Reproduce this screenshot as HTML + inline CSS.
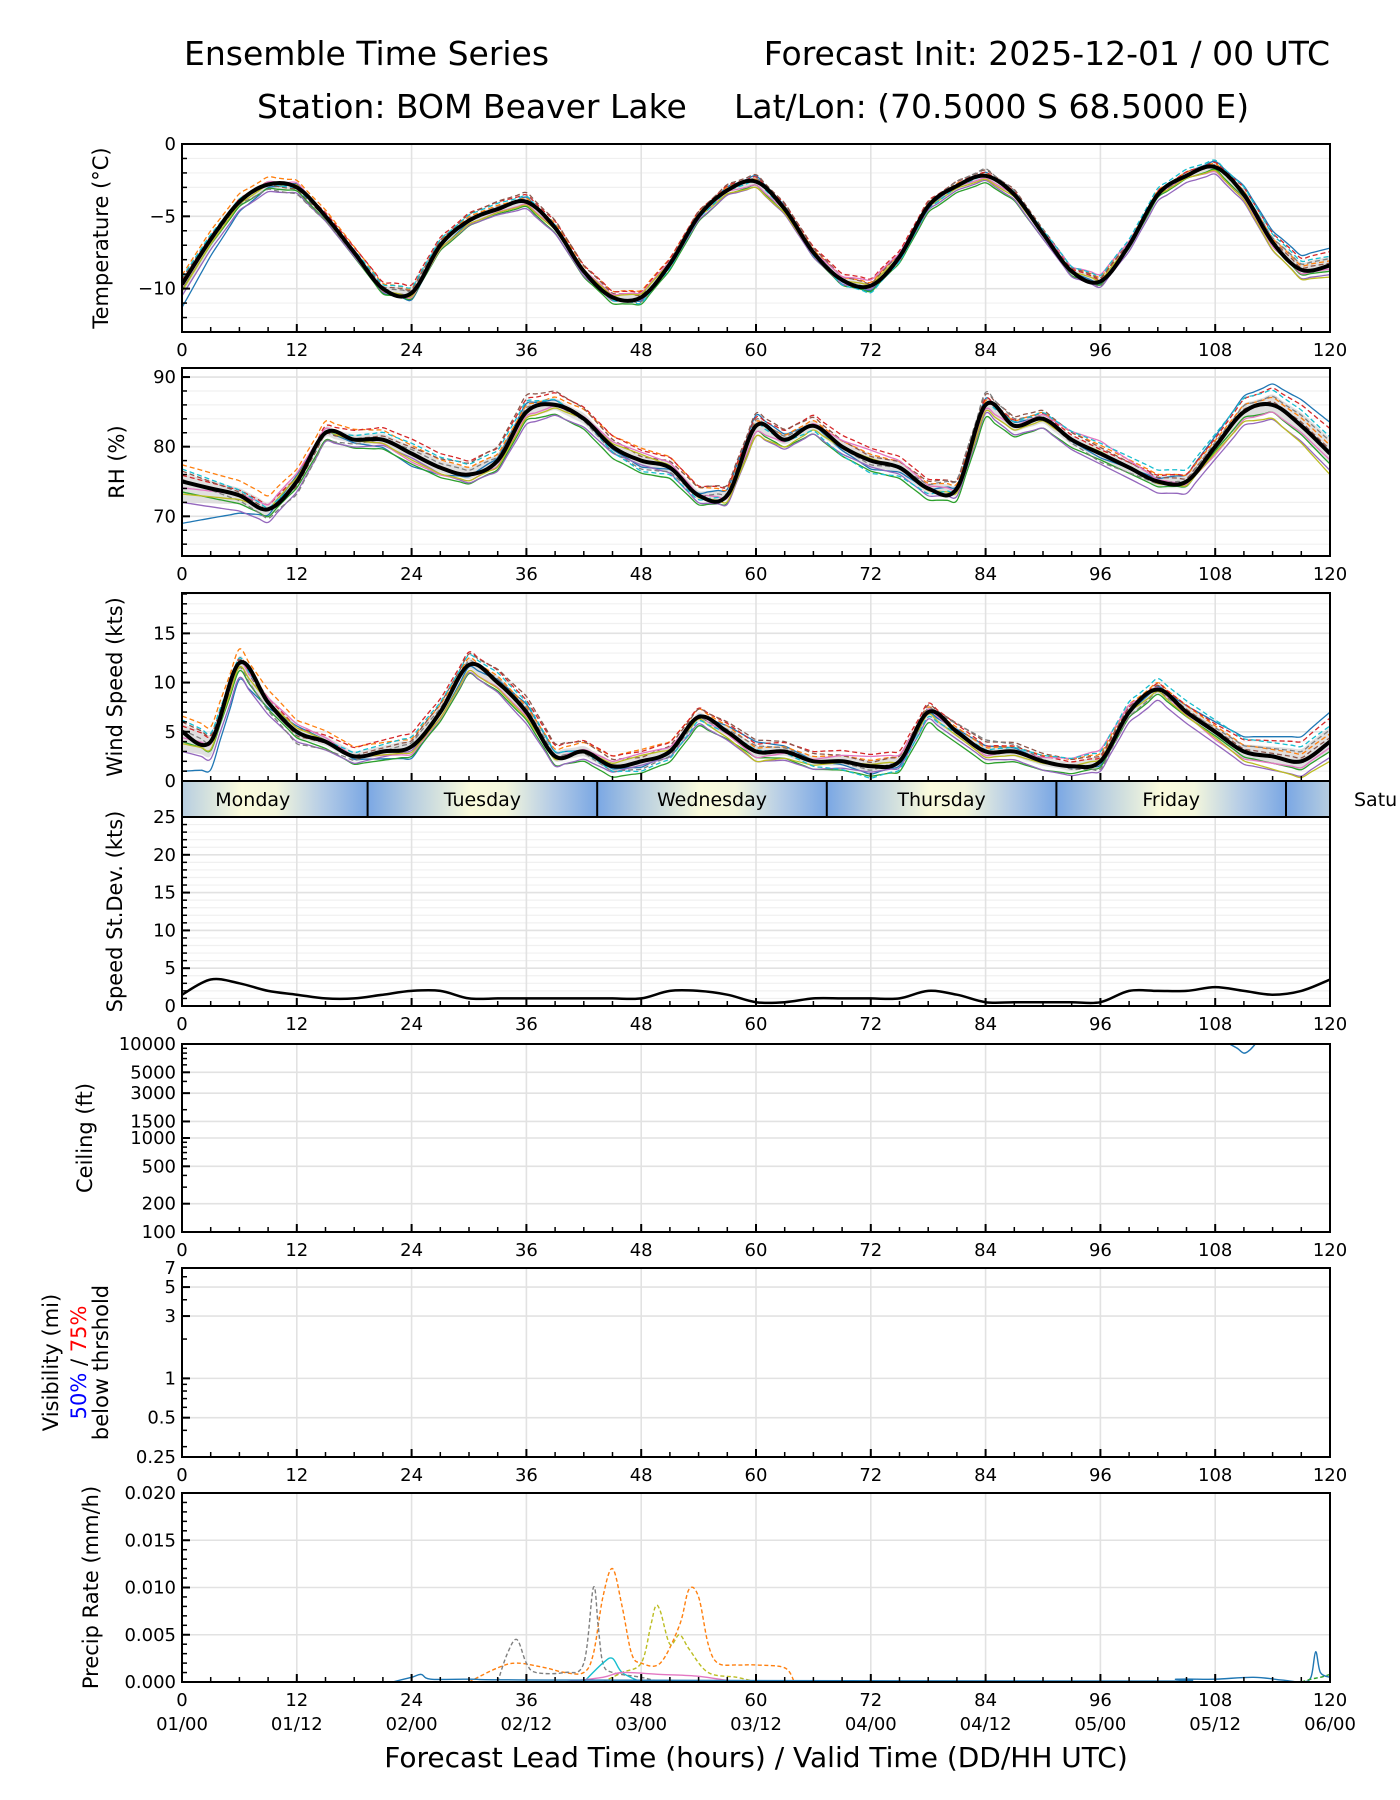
<!DOCTYPE html>
<html><head><meta charset="utf-8">
<style>
html,body{margin:0;padding:0;background:#fff;}
svg{display:block;font-family:"DejaVu Sans","Liberation Sans",sans-serif;}
</style></head>
<body>
<svg id="fig" width="1400" height="1800" viewBox="0 0 1400 1800" xmlns="http://www.w3.org/2000/svg">
<text x="184" y="65" font-size="33">Ensemble Time Series</text>
<text x="1330" y="65" font-size="33" text-anchor="end">Forecast Init: 2025-12-01 / 00 UTC</text>
<text x="257" y="118" font-size="33">Station: BOM Beaver Lake</text>
<text x="734" y="118" font-size="33">Lat/Lon: (70.5000 S 68.5000 E)</text>
<text x="756" y="1767" font-size="28" text-anchor="middle">Forecast Lead Time (hours) / Valid Time (DD/HH UTC)</text>
</svg>
<script>
// ---- data ----
const hours3 = [0,3,6,9,12,15,18,21,24,27,30,33,36,39,42,45,48,51,54,57,60,63,66,69,72,75,78,81,84,87,90,93,96,99,102,105,108,111,114,117,120];
const tempMean = [-9.7,-6.6,-4.0,-2.8,-3.0,-5.0,-7.5,-10.0,-10.3,-7.0,-5.3,-4.5,-4.0,-5.8,-8.8,-10.6,-10.6,-8.3,-5.0,-3.2,-2.6,-4.5,-7.5,-9.4,-9.8,-7.8,-4.3,-2.9,-2.2,-3.5,-6.2,-8.8,-9.5,-7.0,-3.5,-2.2,-1.6,-3.5,-6.8,-8.7,-8.4];
const rhMean = [75,74,73,71,75,82,81,81,79,77,76,78,85,86,84,80,78,77,73,73,83,81,83,80,78,77,74,74,86,83,84,81,79,77,75,75,80,85,86,83,79];
const windMean = [5,4,12,8,5,4,2.5,3,3.5,7,11.8,10,7,2.5,3,1.5,2,3,6.5,5,3,3,2,2,1.5,2,7,5,3,3,2,1.5,2,7,9.3,7,5,3,2.5,2,4];
const sdMean = [1.5,3.5,3,2,1.5,1,1,1.5,2,2,1,1,1,1,1,1,1,2,2,1.5,0.5,0.5,1,1,1,1,2,1.5,0.5,0.5,0.5,0.5,0.5,2,2,2,2.5,2,1.5,2,3.5];
const memberHours = [0,12,24,36,48,60,72,84,96,108,120];
const memberOffsets = [
 [-2.0,0.3,-0.6,0.4,-0.3,0.5,-0.4,0.3,-0.2,0.5,1.5],
 [0.8,0.6,0.4,0.3,0.6,0.2,0.3,0.2,0.4,0.3,0.4],
 [-0.5,-0.3,-0.5,-0.4,-0.6,-0.3,-0.5,-0.6,-0.3,-0.2,-0.5],
 [0.3,0.2,0.7,0.6,0.5,0.4,0.6,0.3,0.2,0.4,1.2],
 [-1.0,-0.5,-0.2,-0.6,-0.2,-0.5,-0.3,-0.4,-0.5,-0.6,-0.8],
 [0.5,-0.2,0.3,0.8,0.2,0.6,0.2,0.5,0.3,0.1,0.2],
 [-0.3,0.4,-0.4,-0.2,0.4,-0.3,0.5,-0.2,0.6,-0.4,-0.3],
 [0.1,-0.6,0.2,0.2,-0.4,0.3,-0.2,0.6,-0.4,0.2,0.6],
 [-0.6,0.2,-0.3,-0.3,0.3,-0.5,0.1,-0.3,0.1,-0.3,-1.0],
 [0.6,-0.1,0.5,0.5,-0.5,0.1,-0.6,0.1,0.5,0.6,0.8]
];
const memberScale = {temp:0.8, rh:3.0, wind:2.0};
const memberColors = ["#1f77b4","#ff7f0e","#2ca02c","#d62728","#9467bd","#8c564b","#e377c2","#7f7f7f","#bcbd22","#17becf"];
const dayNames = ["Monday","Tuesday","Wednesday","Thursday","Friday"];
const dayStart = [-4.6,19.4,43.4,67.4,91.4,115.4];
const ceilHours = [109.5,110.3,111,111.6,112.2];
const ceilVals = [10000,9000,8000,8600,10000];
const precipSeries = [
 {name:"orange",color:"#ff7f0e",dash:true,h:[30,33,35,38,40,42,43,44,45,46,47,48,50,52,53,54,55,56,58,60,63,64],v:[0,0.0015,0.002,0.0015,0.001,0.001,0.003,0.009,0.012,0.008,0.003,0.002,0.002,0.006,0.0098,0.009,0.004,0.002,0.0018,0.0018,0.0015,0]},
 {name:"gray",color:"#7f7f7f",dash:true,h:[33,34,35,36,37,40,42,43,43.5,44,45,48,50],v:[0,0.003,0.0045,0.002,0.001,0.001,0.002,0.010,0.006,0.002,0.001,0.0005,0]},
 {name:"olive",color:"#bcbd22",dash:true,h:[44,46,48,49,49.5,50,51,52,53,55,58,60],v:[0,0.001,0.002,0.006,0.008,0.0075,0.004,0.005,0.0035,0.001,0.0005,0]},
 {name:"cyan",color:"#17becf",dash:false,h:[42,44,45,46,48],v:[0,0.002,0.0025,0.001,0]},
 {name:"pink",color:"#e377c2",dash:false,h:[40,44,46,50,54,58],v:[0,0.0005,0.001,0.0008,0.0006,0]},
 {name:"blue",color:"#1f77b4",dash:false,h:[22,24,25,26,30,40,100,104,108,112,115,117,118,118.5,119,120],v:[0,0.0005,0.0008,0.0003,0.0003,0.0002,0.0001,0.0003,0.0003,0.0005,0.0002,0,0.0005,0.0032,0.001,0.0005]},
 {name:"green",color:"#2ca02c",dash:true,h:[117,118,119,120],v:[0,0.0003,0.0005,0.0008]}
];
const xTicks = [0,12,24,36,48,60,72,84,96,108,120];
const xDates = ["01/00","01/12","02/00","02/12","03/00","03/12","04/00","04/12","05/00","05/12","06/00"];

// ---- helpers ----
const NS="http://www.w3.org/2000/svg";
const svg=document.getElementById('fig');
const X0=182,X1=1330;
const xs=h=>X0+h/120*(X1-X0);
function mk(tag,attrs,parent){const e=document.createElementNS(NS,tag);for(const k in attrs)e.setAttribute(k,attrs[k]);(parent||svg).appendChild(e);return e;}
function interp(hs,vs,h){if(h<=hs[0])return vs[0];for(let i=1;i<hs.length;i++){if(h<=hs[i]){const t=(h-hs[i-1])/(hs[i]-hs[i-1]);return vs[i-1]+t*(vs[i]-vs[i-1]);}}return vs[vs.length-1];}
function smoothPath(pts){let d="M"+pts[0][0].toFixed(1)+","+pts[0][1].toFixed(1);for(let i=0;i<pts.length-1;i++){const p0=pts[Math.max(0,i-1)],p1=pts[i],p2=pts[i+1],p3=pts[Math.min(pts.length-1,i+2)];const c1=[p1[0]+(p2[0]-p0[0])/6,p1[1]+(p2[1]-p0[1])/6],c2=[p2[0]-(p3[0]-p1[0])/6,p2[1]-(p3[1]-p1[1])/6];d+="C"+c1[0].toFixed(1)+","+c1[1].toFixed(1)+" "+c2[0].toFixed(1)+","+c2[1].toFixed(1)+" "+p2[0].toFixed(1)+","+p2[1].toFixed(1);}return d;}

let clipN=0;
function panel(o){
 const g=mk('g',{});
 
 
 const ys=o.ys;
 clipN++;const cid='clip'+clipN;
 const cp=mk('clipPath',{id:cid},g);mk('rect',{x:X0,y:o.top,width:X1-X0,height:o.bot-o.top},cp);
 (o.minorGrid||[]).forEach(v=>mk('line',{x1:X0,x2:X1,y1:ys(v),y2:ys(v),stroke:'#f0f0f0','stroke-width':1.2},g));
 (o.majorGrid||o.yTicks).forEach(v=>mk('line',{x1:X0,x2:X1,y1:ys(v),y2:ys(v),stroke:'#e2e2e2','stroke-width':1.6},g));
 xTicks.forEach(h=>mk('line',{x1:xs(h),x2:xs(h),y1:o.top,y2:o.bot,stroke:'#e2e2e2','stroke-width':1.6},g));
 const plot=mk('g',{'clip-path':'url(#'+cid+')'},g);
 
 
 if(o.draw)o.draw(plot,ys);
 mk('rect',{x:X0,y:o.top,width:X1-X0,height:o.bot-o.top,fill:'none',stroke:'#000','stroke-width':2},g);
 for(let h=0;h<=120;h+=3){const major=h%12===0;mk('line',{x1:xs(h),x2:xs(h),y1:o.bot,y2:o.bot-(major?8:5),stroke:'#000','stroke-width':major?2:1.5},g);}
 o.yTicks.forEach((v,i)=>{mk('line',{x1:X0,x2:X0+8,y1:ys(v),y2:ys(v),stroke:'#000','stroke-width':2},g);
  const t=mk('text',{x:X0-6,y:ys(v)+6,'font-size':18,'text-anchor':'end'},g);t.textContent=o.yLabels?o.yLabels[i]:String(v).replace('-','\u2212');
  
  });
 (o.yMinor||[]).forEach(v=>mk('line',{x1:X0,x2:X0+5,y1:ys(v),y2:ys(v),stroke:'#000','stroke-width':1.5},g));
 if(o.xLabels){xTicks.forEach((h,i)=>{const t=mk('text',{x:xs(h),y:o.bot+24,'font-size':18,'text-anchor':'middle'},g);t.textContent=h;
  
  
  if(o.dates){const d=mk('text',{x:xs(h),y:o.bot+48,'font-size':18,'text-anchor':'middle'},g);d.textContent=xDates[i];
  
  }});}
 const cy=(o.top+o.bot)/2;
 if(o.ylabel){const t=mk('text',{x:0,y:0,'font-size':21,'text-anchor':'middle',transform:`translate(${o.ylx},${cy}) rotate(-90)`},g);t.textContent=o.ylabel;
 
 }
 return g;
}
function range(a,b,s){const r=[];for(let v=a;v<=b+1e-9;v+=s)r.push(+v.toFixed(4));return r;}

function ensembleDraw(key,mean){
 return (plot,ys)=>{
  const fine=[];for(let h=0;h<=120;h+=1)fine.push(h);
  const members=memberOffsets.map(off=>fine.map(h=>interp(hours3,mean,h)+memberScale[key]*interp(memberHours,off,h)));
  const up=fine.map((h,i)=>[xs(h),ys(Math.max(...members.map(m=>m[i]))*0.5+interp(hours3,mean,h)*0.5)]);
  const lo=fine.map((h,i)=>[xs(h),ys(Math.min(...members.map(m=>m[i]))*0.5+interp(hours3,mean,h)*0.5)]);
  const band=mk('path',{d:smoothPath(up)+"L"+smoothPath(lo.slice().reverse()).slice(1),fill:'#d8d8d8',opacity:0.8},plot);
  
  
  members.forEach((m,i)=>{const p=mk('path',{d:smoothPath(fine.map((h,j)=>[xs(h),ys(m[j])])),fill:'none',stroke:memberColors[i],'stroke-width':1.3,'stroke-dasharray':i%2?'5,3':'none'},plot);
   
   });
  const ml=mk('path',{d:smoothPath(hours3.map((h,i)=>[xs(h),ys(mean[i])])),fill:'none',stroke:'#000','stroke-width':4,'stroke-linejoin':'round'},plot);
  
  
 };
}
const lin=(top,bot,lo,hi)=>v=>bot-(v-lo)/(hi-lo)*(bot-top);
const lg=(top,bot,lo,hi)=>v=>bot-(Math.log10(v)-Math.log10(lo))/(Math.log10(hi)-Math.log10(lo))*(bot-top);

panel({name:'temperature',top:144,bot:332,ys:lin(144,332,-13,0),yTicks:[-10,-5,0],minorGrid:range(-13,0,1),yMinor:range(-13,0,1),xLabels:true,ylabel:'Temperature (°C)',ylx:108,draw:ensembleDraw('temp',tempMean)});
panel({name:'rh',top:368,bot:556,ys:lin(368,556,64.3,91.3),yTicks:[70,80,90],minorGrid:range(66,90,2),yMinor:range(66,90,2),xLabels:true,ylabel:'RH (%)',ylx:124,draw:ensembleDraw('rh',rhMean)});
panel({name:'wind',top:593,bot:781,ys:lin(593,781,0,19.1),yTicks:[0,5,10,15],minorGrid:range(0,19,1),yMinor:range(0,19,1),xLabels:false,ylabel:'Wind Speed (kts)',ylx:122,draw:ensembleDraw('wind',windMean)});

// day bar
(function(){
 const g=mk('g',{});
 const defs=mk('defs',{},g);const gr=mk('linearGradient',{id:'dayg',x1:0,x2:1,y1:0,y2:0},defs);
 [[0,'#7aa7e4'],[0.2,'#b9cfe0'],[0.45,'#fafbdc'],[0.6,'#f3f6dc'],[0.8,'#b6cde6'],[1,'#7aa7e4']].forEach(s=>mk('stop',{offset:s[0],'stop-color':s[1]},gr));
 const cp=mk('clipPath',{id:'dayclip'},g);mk('rect',{x:X0,y:781,width:X1-X0,height:36},cp);
 const inner=mk('g',{'clip-path':'url(#dayclip)'},g);
 dayStart.forEach((s,i)=>{const r=mk('rect',{x:xs(s),y:781,width:xs(s+24)-xs(s),height:36,fill:'url(#dayg)'},inner);
  
  if(i>0)mk('line',{x1:xs(s),x2:xs(s),y1:781,y2:817,stroke:'#000','stroke-width':2},g);});
 dayNames.forEach((n,i)=>{const t=mk('text',{x:xs(dayStart[i]+12),y:806,'font-size':19,'text-anchor':'middle'},g);t.textContent=n;
  });
 const sat=mk('text',{x:1354,y:806,'font-size':19},g);sat.textContent='Satu';
 
 mk('rect',{x:X0,y:781,width:X1-X0,height:36,fill:'none',stroke:'#000','stroke-width':2},g);
})();

panel({name:'speed-stdev',top:817,bot:1006,ys:lin(817,1006,0,25),yTicks:[0,5,10,15,20,25],minorGrid:range(0,25,1),yMinor:range(0,25,1),xLabels:true,ylabel:'Speed St.Dev. (kts)',ylx:122,draw:(p,ys)=>{
 const l=mk('path',{d:smoothPath(hours3.map((h,i)=>[xs(h),ys(sdMean[i])])),fill:'none',stroke:'#000','stroke-width':2.5},p);
 }});

const ceilT=[100,200,500,1000,1500,3000,5000,10000];
const ceilMinor=[300,400,600,700,800,900,2000,4000,6000,7000,8000,9000];
panel({name:'ceiling',top:1044,bot:1232,ys:lg(1044,1232,100,10000),yTicks:ceilT,yLabels:ceilT.map(String),majorGrid:ceilT,yMinor:ceilMinor,xLabels:true,ylabel:'Ceiling (ft)',ylx:92,draw:(p,ys)=>{
 const l=mk('path',{d:smoothPath(ceilHours.map((h,i)=>[xs(h),ys(ceilVals[i])])),fill:'none',stroke:'#1f77b4','stroke-width':1.5},p);
 }});

const visT=[0.25,0.5,1,3,5,7];
panel({name:'visibility',top:1268,bot:1457,ys:lg(1268,1457,0.25,7),yTicks:visT,yLabels:visT.map(String),majorGrid:visT,yMinor:[0.3,0.4,0.6,0.7,0.8,0.9,2,4,6],xLabels:true});
(function(){const cy=(1268+1457)/2;
 const t1=mk('text',{'font-size':21,'text-anchor':'middle',transform:`translate(58,${cy}) rotate(-90)`});t1.textContent='Visibility (mi)';
 
 const t2=mk('text',{'font-size':21,'text-anchor':'middle',transform:`translate(86,${cy}) rotate(-90)`});
 
 const a=mk('tspan',{fill:'#0000ff'},t2);a.textContent='50%';const b=mk('tspan',{},t2);b.textContent=' / ';const c=mk('tspan',{fill:'#ff0000'},t2);c.textContent='75%';
 const t3=mk('text',{'font-size':21,'text-anchor':'middle',transform:`translate(108,${cy}) rotate(-90)`});t3.textContent='below thrshold';
 
})();

const prT=[0,0.005,0.01,0.015,0.02];
panel({name:'precip',top:1493,bot:1682,ys:lin(1493,1682,0,0.02),yTicks:prT,yLabels:prT.map(v=>v.toFixed(3)),majorGrid:prT,yMinor:range(0,0.02,0.001),xLabels:true,dates:true,ylabel:'Precip Rate (mm/h)',ylx:98,draw:(p,ys)=>{
 precipSeries.forEach(s=>{const l=mk('path',{d:smoothPath(s.h.map((h,i)=>[xs(h),ys(s.v[i])])),fill:'none',stroke:s.color,'stroke-width':1.4,'stroke-dasharray':s.dash?'4,2.5':'none'},p);
  });}});
</script>
</body></html>
